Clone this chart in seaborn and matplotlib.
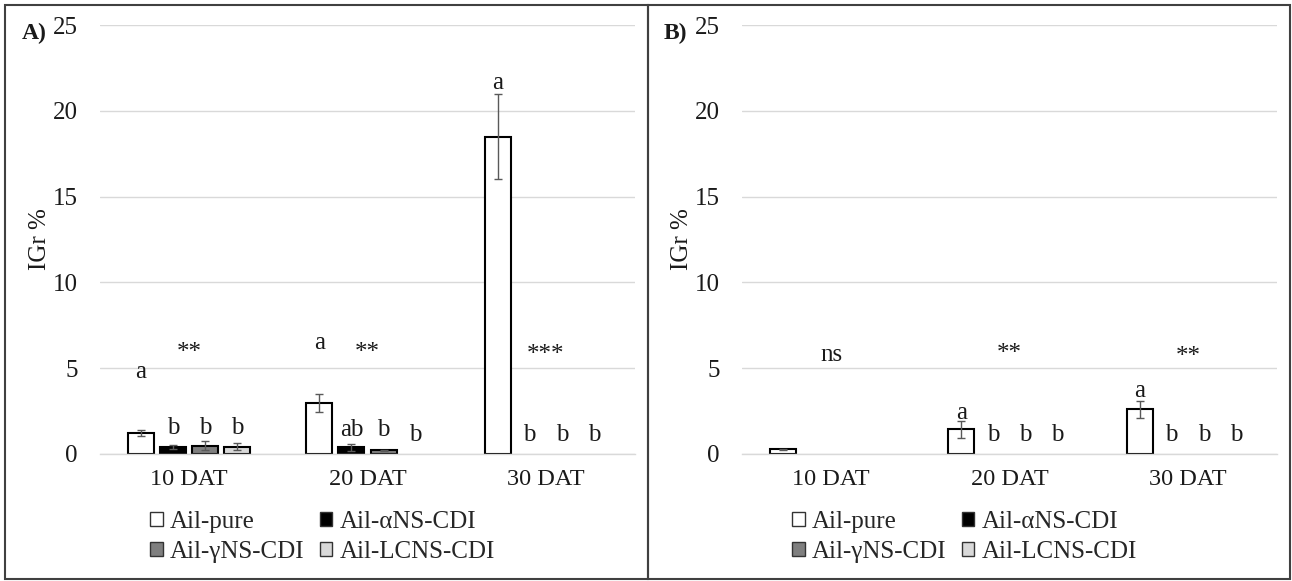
import matplotlib
matplotlib.use("Agg")
import matplotlib.pyplot as plt
from matplotlib.patches import Patch, Rectangle
import seaborn as sns
import pandas as pd

# data
days = ["10 DAT", "20 DAT", "30 DAT"]
treatments = ["Ail-pure", "Ail-\u03b1NS-CDI", "Ail-\u03b3NS-CDI", "Ail-LCNS-CDI"]
colors = ["#ffffff", "#000000", "#7f7f7f", "#d9d9d9"]

# panel A
a_pure = [1.22, 2.95, 18.5]
a_alpha = [0.40, 0.39, 0.0]
a_gamma = [0.47, 0.23, 0.0]
a_lcns = [0.43, 0.0, 0.0]
a_pure_err = [0.15, 0.53, 2.5]
a_alpha_err = [0.10, 0.21, 0.0]
a_gamma_err = [0.26, 0.03, 0.0]
a_lcns_err = [0.22, 0.0, 0.0]

# panel B
b_pure = [0.27, 1.43, 2.6]
b_alpha = [0.0, 0.0, 0.0]
b_gamma = [0.0, 0.0, 0.0]
b_lcns = [0.0, 0.0, 0.0]
b_pure_err = [0.03, 0.48, 0.48]
b_alpha_err = [0.0, 0.0, 0.0]
b_gamma_err = [0.0, 0.0, 0.0]
b_lcns_err = [0.0, 0.0, 0.0]

# letters over bars (and the heights they sit at)
a_letters = [["a", "a", "a"], ["b", "ab", "b"], ["b", "b", "b"], ["b", "b", "b"]]
a_letter_y = [[4.8, 6.45, 21.6], [1.5, 1.4, 1.1], [1.5, 1.4, 1.1], [1.5, 1.1, 1.1]]
b_letters = [["", "a", "a"], ["", "b", "b"], ["", "b", "b"], ["", "b", "b"]]
b_letter_y = [[0, 2.4, 3.7], [0, 1.1, 1.1], [0, 1.1, 1.1], [0, 1.1, 1.1]]

# significance per day
a_sig = ["**", "**", "***"]
a_sig_y = [5.9, 5.9, 5.75]
b_sig = ["ns", "**", "**"]
b_sig_y = [5.75, 5.8, 5.65]


def make_df(vals, errs):
    rows = []
    for t, v, e in zip(treatments, vals, errs):
        for d, vv, ee in zip(days, v, e):
            rows.append({"day": d, "treatment": t, "value": vv, "err": ee})
    return pd.DataFrame(rows)


df_a = make_df([a_pure, a_alpha, a_gamma, a_lcns],
               [a_pure_err, a_alpha_err, a_gamma_err, a_lcns_err])
df_b = make_df([b_pure, b_alpha, b_gamma, b_lcns],
               [b_pure_err, b_alpha_err, b_gamma_err, b_lcns_err])

sns.set_theme(style="white")
plt.rcParams["font.family"] = ["Liberation Serif", "DejaVu Serif"]

fig = plt.figure(figsize=(12.92, 5.81), dpi=100)
W, H = 1292, 581
ax_a = fig.add_axes([100 / W, 1 - 454 / H, 535 / W, 429 / H])
ax_b = fig.add_axes([742 / W, 1 - 454 / H, 535 / W, 429 / H])

txt = "#1a1a1a"


def draw_panel(ax, df, letters, letter_y, sig, sig_y, tag):
    sns.barplot(data=df, x="day", y="value", hue="treatment", order=days,
                hue_order=treatments, palette=colors, edgecolor="black",
                linewidth=1.5, width=0.72, gap=0.19, errorbar=None,
                legend=False, ax=ax)
    bar_groups = list(ax.containers)
    for i, cont in enumerate(bar_groups):
        sub = df[df["treatment"] == treatments[i]].set_index("day").loc[days]
        for j, bar in enumerate(cont):
            xc = bar.get_x() + bar.get_width() / 2
            if bar.get_height() == 0:
                bar.set_visible(False)
            if sub["err"].iloc[j] > 0:
                ax.errorbar(xc, sub["value"].iloc[j], yerr=sub["err"].iloc[j],
                            fmt="none", ecolor="#595959", elinewidth=1,
                            capsize=3, capthick=1, zorder=5)
            if letters[i][j]:
                ax.text(xc, letter_y[i][j], letters[i][j], ha="center",
                        va="center", fontsize=18, color=txt)
    for j, s in enumerate(sig):
        ax.text(j, sig_y[j], s, ha="center", va="center", fontsize=18,
                color=txt)
    ax.set_ylim(0, 25)
    ax.set_yticks([0, 5, 10, 15, 20, 25])
    ax.set_xlim(-0.5, 2.5)
    ax.yaxis.grid(True, color="#d9d9d9", linewidth=1)
    ax.set_axisbelow(True)
    for side in ["top", "left", "right"]:
        ax.spines[side].set_visible(False)
    ax.spines["bottom"].set_color("#d9d9d9")
    ax.spines["bottom"].set_linewidth(1)
    ax.tick_params(axis="y", length=0, pad=16, labelsize=18, labelcolor=txt)
    ax.tick_params(axis="x", length=0, pad=11, labelsize=17.5, labelcolor=txt)
    ax.set_xlabel("")
    ax.set_ylabel("IGr %", fontsize=18, color=txt, labelpad=1)
    handles = [Patch(facecolor=colors[k], edgecolor="#333333", linewidth=1)
               for k in [0, 2, 1, 3]]
    labels = [treatments[k] for k in [0, 2, 1, 3]]
    ax.legend(handles, labels, ncol=2, loc="upper left",
              bbox_to_anchor=(0.075, -0.11), frameon=False, fontsize=18,
              handlelength=0.5, handleheight=0.5, handletextpad=0.3,
              columnspacing=0.6, labelspacing=0.32, borderaxespad=0)
    ax.text(-0.146, 0.98, tag, transform=ax.transAxes, fontsize=17,
            fontweight="bold", ha="left", va="center", color=txt)


draw_panel(ax_a, df_a, a_letters, a_letter_y, a_sig, a_sig_y, "A)")
draw_panel(ax_b, df_b, b_letters, b_letter_y, b_sig, b_sig_y, "B)")

# panel frames
fig.patches.append(Rectangle((5 / W, 2 / H), 643 / W, 574 / H, fill=False,
                             edgecolor="#404040", linewidth=1.5,
                             transform=fig.transFigure))
fig.patches.append(Rectangle((648 / W, 2 / H), 642 / W, 574 / H, fill=False,
                             edgecolor="#404040", linewidth=1.5,
                             transform=fig.transFigure))

fig.savefig("out.png", dpi=100, facecolor="white")
